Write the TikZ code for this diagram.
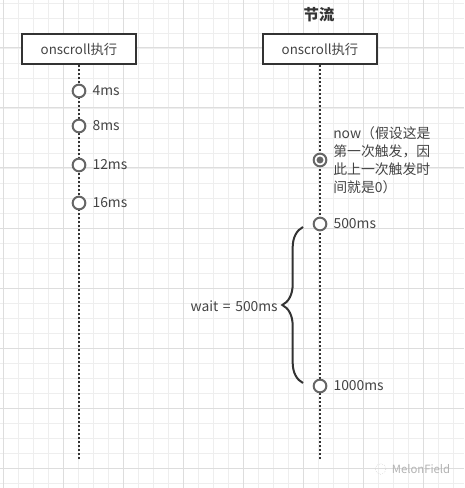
\documentclass[tikz,border=0pt]{standalone}
\usepackage{fontspec}
\setmainfont{Noto Sans CJK SC}
\usetikzlibrary{positioning,decorations.pathreplacing}
\definecolor{ink}{HTML}{333333}
\definecolor{txt}{HTML}{444444}
\definecolor{ring}{HTML}{666666}
\definecolor{gridmin}{HTML}{EEEEEE}
\definecolor{gridmaj}{HTML}{DDDDDD}

\tikzset{
  frame/.style={draw=ink,line width=1.5pt,fill=white,minimum width=86pt,minimum height=22.5pt,inner sep=0pt,font=\fontsize{10}{12}\selectfont,text=txt},
  tick/.style={circle,draw=ring,line width=1.5pt,fill=white,minimum size=9.5pt,inner sep=0pt},
  stamp/.style={inner sep=0pt,font=\fontsize{10.4}{12}\selectfont,text=txt},
  track/.style={ink,line width=1.4pt,dash pattern=on 1.4pt off 1.6pt},
}

\begin{document}
\begin{tikzpicture}[x=0.75pt,y=-0.75pt]
  \useasboundingbox (0,0) rectangle (464,488);
  % grid paper
  \foreach \gx in {3,18,...,463} \draw[gridmin,line width=0.6pt] (\gx,0) -- (\gx,488);
  \foreach \gy in {3,18,...,487} \draw[gridmin,line width=0.6pt] (0,\gy) -- (464,\gy);
  \foreach \gx in {3,63,...,423} \draw[gridmaj,line width=0.75pt] (\gx,0) -- (\gx,488);
  \foreach \gy in {48,108,...,468} \draw[gridmaj,line width=0.75pt] (0,\gy) -- (464,\gy);

  % left: every scroll event
  \node[frame] (scrollA) at (79,49) {onscroll执行};
  \coordinate (endA) at (79,460);
  \draw[track] (scrollA) -- (endA);
  \foreach \n/\y/\t in {1/91/4ms,2/126/8ms,3/165/12ms,4/203/16ms}{
    \node[tick] (a\n) at (79,\y) {};
    \node[stamp,right=4.5pt of a\n] (la\n) {\t};
  }

  % right: throttle
  \node[font=\fontsize{11.5}{13}\selectfont\bfseries,text=ink] (title) at (319,15) {节流};
  \node[frame] (scrollB) at (320,49) {onscroll执行};
  \coordinate (endB) at (320,460);
  \draw[track] (scrollB) -- (endB);
  \node[tick] (now) at (320,160) {};
  \fill[ring] (now.center) circle (2.6pt);
  \node[stamp,anchor=north west,align=left,font=\fontsize{10.4}{13.5}\selectfont] (nowtext) at (333,126) {now（假设这是\\第一次触发，因\\此上一次触发时\\间就是0）};
  \node[tick] (b500) at (320,224) {};
  \node[stamp,right=4.5pt of b500] (lb500) {500ms};
  \node[tick] (b1000) at (320,386) {};
  \node[stamp,right=4.5pt of b1000] (lb1000) {1000ms};

  % wait brace
  \coordinate (braceTop) at (303,227);
  \coordinate (braceBot) at (303,383);
  \coordinate (tip) at (282,306);
  \draw[ink,line width=1.5pt,decorate,decoration={brace,amplitude=15.5pt}] (braceBot) -- (braceTop);
  \node[stamp,left=3pt of tip] (wait) {wait\,\,=\,\,500ms};

  % watermark
  \node[text=gray!60,font=\fontsize{8.5}{10}\selectfont,inner sep=0pt] (mark) at (421,469) {MelonField};
  \node[circle,draw=gray!40,densely dotted,minimum size=8pt,inner sep=0pt,left=4pt of mark] (logo) {};
\end{tikzpicture}
\end{document}
